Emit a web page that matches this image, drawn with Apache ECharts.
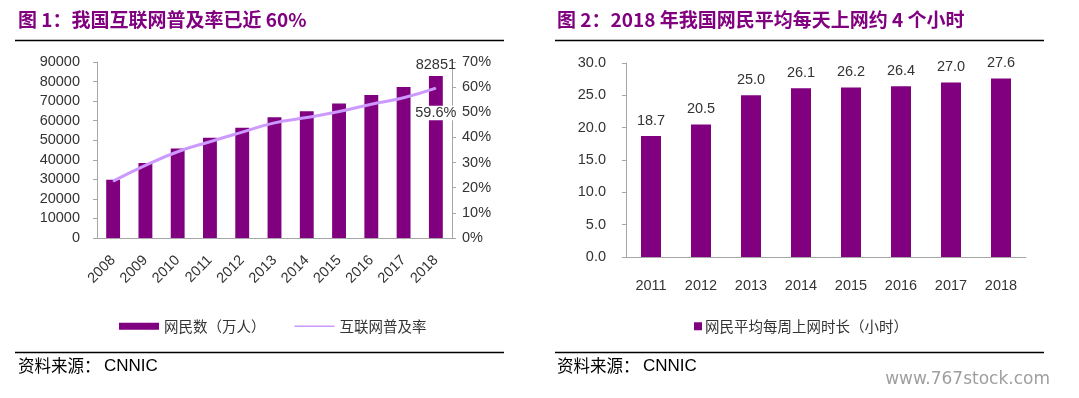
<!DOCTYPE html>
<html><head><meta charset="utf-8">
<script src="https://cdn.jsdelivr.net/npm/echarts@6/dist/echarts.min.js"></script>
<style>html,body{margin:0;padding:0;background:#fff}#c{width:1079px;height:398px}</style>
</head><body><div id="c"></div>
<script>
const years1 = ['2008','2009','2010','2011','2012','2013','2014','2015','2016','2017','2018'];
const netizens = [29800,38400,45730,51310,56400,61758,64875,68826,73125,77198,82851];
const penetration = [22.6,28.9,34.3,38.3,42.1,45.8,47.9,50.3,53.2,55.8,59.6];
const years2 = ['2011','2012','2013','2014','2015','2016','2017','2018'];
const weeklyHours = [18.7,20.5,25.0,26.1,26.2,26.4,27.0,27.6];
const title1 = '图 1：我国互联网普及率已近 60%';
const title2 = '图 2：2018 年我国网民平均每天上网约 4 个小时';
const name1 = '网民数（万人）', name2 = '互联网普及率', name3 = '网民平均每周上网时长（小时）';

const PURPLE = '#800080', LAV = '#CC99FF', TXT = '#333', AX = '#A6A6A6';
const F = '"Liberation Sans", Arial, "Noto Sans CJK SC", sans-serif';
const CJK = '"Noto Sans CJK SC", sans-serif';
const chart = echarts.init(document.getElementById('c'));
const lbl = {color: TXT, fontSize: 14.5, fontFamily: F};
chart.setOption({
  animation: false,
  textStyle: {fontFamily: F},
  title: [
    {text: title1, left: 18, top: 10, padding: 0, textStyle: {color: PURPLE, fontSize: 19, fontWeight: 'bold', fontFamily: CJK}},
    {text: title2, left: 557, top: 10, padding: 0, textStyle: {color: PURPLE, fontSize: 19, fontWeight: 'bold', fontFamily: CJK}}
  ],
  legend: [
    {left: 119, top: 319, padding: 0, itemWidth: 40, itemHeight: 7, itemGap: 29,
     textStyle: {color: TXT, fontSize: 14.5, fontFamily: CJK},
     data: [{name: name1, icon: 'rect'}, {name: name2, icon: 'path://M0,0 L40,0 L40,1.5 L0,1.5 Z', itemStyle: {color: LAV, opacity: 1}}]},
    {left: 694, top: 319, padding: 0, itemWidth: 8, itemHeight: 8, itemGap: 3,
     textStyle: {color: TXT, fontSize: 14.5, fontFamily: CJK, padding: [0,0,0,-2]},
     data: [{name: name3, icon: 'rect'}]}
  ],
  grid: [
    {left: 97, right: 1079 - 452, top: 62, bottom: 398 - 238},
    {left: 626, right: 1079 - 1026, top: 63, bottom: 398 - 257}
  ],
  xAxis: [
    {type: 'category', gridIndex: 0, data: years1,
     axisLine: {lineStyle: {color: AX}}, axisTick: {lineStyle: {color: AX}, length: 5},
     axisLabel: Object.assign({}, lbl, {rotate: 45, margin: 20})},
    {type: 'category', gridIndex: 1, data: years2,
     axisLine: {lineStyle: {color: AX}}, axisTick: {lineStyle: {color: AX}, length: 5},
     axisLabel: Object.assign({}, lbl, {margin: 22})}
  ],
  yAxis: [
    {type: 'value', gridIndex: 0, min: 0, max: 90000, interval: 10000,
     axisLine: {show: true, lineStyle: {color: AX}}, axisTick: {show: true, length: 4, lineStyle: {color: AX}},
     splitLine: {show: false}, axisLabel: Object.assign({}, lbl, {margin: 17, formatter: v => String(v)})},
    {type: 'value', gridIndex: 0, position: 'right', min: 0, max: 70, interval: 10,
     axisLine: {show: true, lineStyle: {color: AX}}, axisTick: {show: true, length: 4, lineStyle: {color: AX}},
     splitLine: {show: false}, axisLabel: Object.assign({}, lbl, {margin: 10, formatter: '{value}%'})},
    {type: 'value', gridIndex: 1, min: 0, max: 30, interval: 5,
     axisLine: {show: true, lineStyle: {color: AX}}, axisTick: {show: true, length: 4, lineStyle: {color: AX}},
     splitLine: {show: false}, axisLabel: Object.assign({}, lbl, {margin: 20, formatter: v => v.toFixed(1)})}
  ],
  series: [
    {name: name1, type: 'bar', xAxisIndex: 0, yAxisIndex: 0, data: netizens, barWidth: '43%',
     itemStyle: {color: PURPLE},
     label: {show: true, position: 'top', distance: 4, color: TXT, fontSize: 14.5, fontFamily: F,
       formatter: p => p.dataIndex === netizens.length - 1 ? String(p.value) : ''}},
    {name: name2, type: 'line', xAxisIndex: 0, yAxisIndex: 1, data: penetration, smooth: true,
     symbol: 'circle', symbolSize: 1, showSymbol: true, z: 3,
     lineStyle: {color: LAV, width: 3}, itemStyle: {color: LAV},
     label: {show: true, position: 'bottom', distance: 17, color: TXT, fontSize: 14.5, fontFamily: F,
       backgroundColor: '#fff', padding: [0, 1],
       formatter: p => p.dataIndex === penetration.length - 1 ? p.value.toFixed(1) + '%' : ''}},
    {name: name3, type: 'bar', xAxisIndex: 1, yAxisIndex: 2, data: weeklyHours, barWidth: '40%',
     itemStyle: {color: PURPLE},
     label: {show: true, position: 'top', distance: 8, color: TXT, fontSize: 14.5, fontFamily: F,
       formatter: p => p.value.toFixed(1)}}
  ],
  graphic: [
    {type: 'line', shape: {x1: 15, y1: 40.5, x2: 504, y2: 40.5}, style: {stroke: '#000', lineWidth: 1.5}},
    {type: 'line', shape: {x1: 555, y1: 40.5, x2: 1044, y2: 40.5}, style: {stroke: '#000', lineWidth: 1.5}},
    {type: 'line', shape: {x1: 15, y1: 352.5, x2: 504, y2: 352.5}, style: {stroke: '#000', lineWidth: 1.5}},
    {type: 'line', shape: {x1: 555, y1: 352.5, x2: 1044, y2: 352.5}, style: {stroke: '#000', lineWidth: 1.5}},
    {type: 'text', left: 18, top: 357, style: {text: '资料来源：', fill: '#000', font: '16.5px "Noto Sans CJK SC", serif'}},
    {type: 'text', left: 104, top: 358, style: {text: 'CNNIC', fill: '#000', font: '17px "Liberation Sans", Arial'}},
    {type: 'text', left: 557, top: 357, style: {text: '资料来源：', fill: '#000', font: '16.5px "Noto Sans CJK SC", serif'}},
    {type: 'text', left: 643, top: 358, style: {text: 'CNNIC', fill: '#000', font: '17px "Liberation Sans", Arial'}},
    {type: 'text', right: 29, top: 371, style: {text: 'www.767stock.com', fill: '#9f9f9f', font: '17px "DejaVu Sans", sans-serif'}}
  ]
});
</script></body></html>
